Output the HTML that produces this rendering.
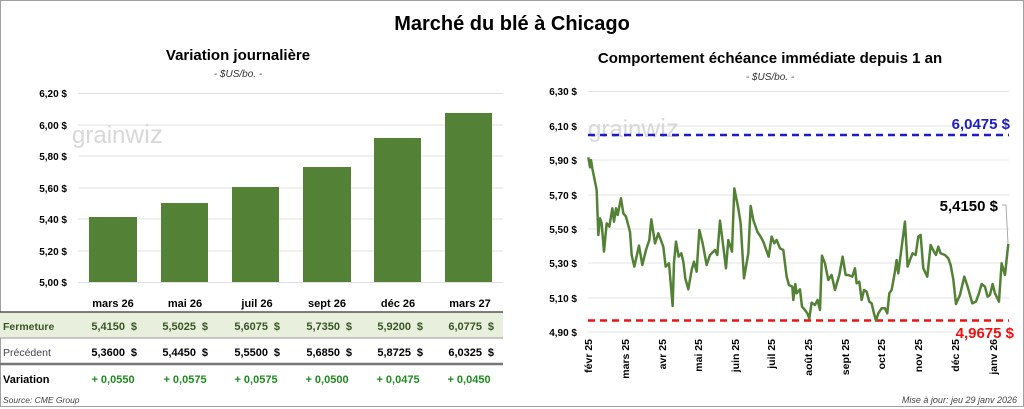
<!DOCTYPE html>
<html><head><meta charset="utf-8"><style>
body{margin:0;background:#fff}
svg{display:block;font-family:"Liberation Sans",sans-serif}
.b{font-weight:bold}
</style></head><body>
<svg width="1024" height="409" viewBox="0 0 1024 409">
<rect x="0.5" y="0.5" width="1023" height="406" fill="#fff" stroke="#a0a0a0"/>
<text x="512" y="30" text-anchor="middle" font-size="20" class="b">Marché du blé à Chicago</text>
<text x="238" y="60" text-anchor="middle" font-size="15" class="b">Variation journalière</text>
<text x="238" y="77" text-anchor="middle" font-size="10" font-style="italic" fill="#333">- $US/bo. -</text>
<text x="770" y="63" text-anchor="middle" font-size="15" class="b">Comportement échéance immédiate depuis 1 an</text>
<text x="770" y="80" text-anchor="middle" font-size="10" font-style="italic" fill="#333">- $US/bo. -</text>
<g stroke="#e0e0e0" stroke-width="1">
<line x1="78" y1="93.5" x2="503" y2="93.5"/><line x1="78" y1="125" x2="503" y2="125"/><line x1="78" y1="156" x2="503" y2="156"/><line x1="78" y1="188" x2="503" y2="188"/><line x1="78" y1="219" x2="503" y2="219"/><line x1="78" y1="251" x2="503" y2="251"/><line x1="78" y1="282.5" x2="503" y2="282.5"/>
</g>
<g font-size="10" class="b" text-anchor="end">
<text x="67" y="97">6,20 $</text><text x="67" y="129">6,00 $</text><text x="67" y="160">5,80 $</text><text x="67" y="192">5,60 $</text><text x="67" y="223">5,40 $</text><text x="67" y="255">5,20 $</text><text x="67" y="286">5,00 $</text>
</g>
<text x="72" y="143" font-size="24" fill="#d8d8d8">grain<tspan font-size="26">wiz</tspan></text>
<g fill="#538135">
<rect x="89" y="217" width="48" height="65"/><rect x="161" y="203" width="47" height="79"/><rect x="232" y="187" width="47" height="95"/><rect x="303" y="167" width="48" height="115"/><rect x="374" y="138" width="47" height="144"/><rect x="445" y="113" width="47" height="169"/>
</g>
<g font-size="11" class="b" text-anchor="middle">
<text x="113" y="307">mars 26</text><text x="185" y="307">mai 26</text><text x="257" y="307">juil 26</text><text x="327" y="307">sept 26</text><text x="398" y="307">déc 26</text><text x="470" y="307">mars 27</text>
</g>
<rect x="0" y="312" width="503" height="26" fill="#e8f0dd"/>
<line x1="0" y1="312" x2="503" y2="312" stroke="#333" stroke-width="1.2"/>
<line x1="0" y1="338" x2="503" y2="338" stroke="#999" stroke-width="1"/>
<line x1="0" y1="364" x2="503" y2="364" stroke="#777" stroke-width="2.5"/>
<text x="3" y="330" font-size="10.5" class="b" fill="#375623">Fermeture</text>
<g font-size="11" class="b" fill="#375623" text-anchor="end">
<text x="125" y="330">5,4150</text><text x="196" y="330">5,5025</text><text x="268" y="330">5,6075</text><text x="340" y="330">5,7350</text><text x="411" y="330">5,9200</text><text x="482" y="330">6,0775</text>
<text x="137" y="330">$</text><text x="208" y="330">$</text><text x="280" y="330">$</text><text x="352" y="330">$</text><text x="423" y="330">$</text><text x="494" y="330">$</text>
</g>
<text x="3" y="356" font-size="10.5" fill="#444">Précédent</text>
<g font-size="11" class="b" text-anchor="end">
<text x="125" y="356">5,3600</text><text x="196" y="356">5,4450</text><text x="268" y="356">5,5500</text><text x="340" y="356">5,6850</text><text x="411" y="356">5,8725</text><text x="482" y="356">6,0325</text>
<text x="137" y="356">$</text><text x="208" y="356">$</text><text x="280" y="356">$</text><text x="352" y="356">$</text><text x="423" y="356">$</text><text x="494" y="356">$</text>
</g>
<text x="3" y="383" font-size="11" class="b">Variation</text>
<g font-size="11" class="b" fill="#1e8c1e" text-anchor="middle">
<text x="113" y="383">+ 0,0550</text><text x="185" y="383">+ 0,0575</text><text x="256" y="383">+ 0,0575</text><text x="327" y="383">+ 0,0500</text><text x="398" y="383">+ 0,0475</text><text x="469" y="383">+ 0,0450</text>
</g>
<text x="3" y="403" font-size="8.5" font-style="italic" fill="#444">Source: CME Group</text>
<text x="1017" y="403" font-size="9" font-style="italic" fill="#444" text-anchor="end">Mise à jour: jeu 29 janv 2026</text>
<g stroke="#e3e3e3" stroke-width="1">
<line x1="588" y1="91.5" x2="1009" y2="91.5"/><line x1="588" y1="126" x2="1009" y2="126"/><line x1="588" y1="160" x2="1009" y2="160"/><line x1="588" y1="195" x2="1009" y2="195"/><line x1="588" y1="229" x2="1009" y2="229"/><line x1="588" y1="263" x2="1009" y2="263"/><line x1="588" y1="298" x2="1009" y2="298"/><line x1="588" y1="332" x2="1009" y2="332"/>
</g>
<g font-size="10" class="b" text-anchor="end">
<text x="577" y="95">6,30 $</text><text x="577" y="130">6,10 $</text><text x="577" y="164">5,90 $</text><text x="577" y="199">5,70 $</text><text x="577" y="233">5,50 $</text><text x="577" y="267">5,30 $</text><text x="577" y="302">5,10 $</text><text x="577" y="336">4,90 $</text>
</g>
<text x="588" y="137" font-size="24" fill="#d8d8d8">grain<tspan font-size="26">wiz</tspan></text>
<line x1="588" y1="135" x2="1009" y2="135" stroke="#1c1cc8" stroke-width="2.5" stroke-dasharray="7,5"/>
<line x1="588" y1="320.5" x2="1009" y2="320.5" stroke="#ee1111" stroke-width="2.5" stroke-dasharray="7,5"/>
<text x="1010" y="129" font-size="15" class="b" fill="#1c1cc8" text-anchor="end">6,0475  $</text>
<text x="1014" y="338" font-size="15" class="b" fill="#ee1111" text-anchor="end">4,9675  $</text>
<text x="998" y="211" font-size="15" class="b" text-anchor="end">5,4150 $</text>
<polyline points="1002,205 1006,205 1008,244" fill="none" stroke="#aaa" stroke-width="1"/>
<g transform="translate(520,80) scale(0.3333)">
<polyline fill="none" stroke="#538135" stroke-width="7.5" stroke-linejoin="round" points="205,232 210,262 213,240 217,265 222,290 230,330 235,465 240,415 245,430 252,515 260,430 268,440 277,385 282,425 288,385 293,405 303,355 310,400 318,410 330,455 335,525 343,560 357,497 367,555 378,510 388,480 394,418 405,490 415,460 430,500 437,560 447,550 458,678 462,548 468,485 476,530 484,520 490,545 496,595 505,628 515,570 522,545 530,575 538,450 548,490 560,555 570,525 585,510 592,525 600,422 610,500 618,565 625,480 636,515 643,325 655,385 662,430 672,595 685,520 692,378 700,420 712,455 722,470 730,485 737,505 746,530 755,470 763,490 770,480 780,505 790,510 800,590 807,615 817,620 820,660 826,612 830,640 840,628 846,680 855,690 862,700 868,715 875,668 885,675 893,660 900,690 906,527 915,550 925,600 935,585 945,630 958,585 968,530 977,585 985,585 997,590 1005,565 1010,610 1018,605 1025,660 1032,630 1040,635 1048,665 1055,670 1062,700 1068,722 1075,700 1085,685 1095,685 1102,700 1108,640 1115,630 1125,575 1130,540 1135,580 1142,525 1155,425 1163,560 1170,540 1178,520 1187,525 1195,470 1202,465 1210,565 1222,590 1232,495 1242,515 1248,525 1255,500 1262,520 1275,525 1285,535 1292,555 1300,598 1308,672 1320,645 1333,590 1343,620 1357,670 1368,665 1377,640 1385,612 1395,620 1403,650 1410,645 1418,612 1425,640 1437,665 1445,550 1455,585 1465,492"/>
</g>
<g font-size="10.5" class="b" text-anchor="end">
<text transform="translate(592,339) rotate(-90)">févr 25</text>
<text transform="translate(629,339) rotate(-90)">mars 25</text>
<text transform="translate(666,339) rotate(-90)">avr 25</text>
<text transform="translate(702,339) rotate(-90)">mai 25</text>
<text transform="translate(739,339) rotate(-90)">juin 25</text>
<text transform="translate(775,339) rotate(-90)">juil 25</text>
<text transform="translate(812,339) rotate(-90)">août 25</text>
<text transform="translate(849,339) rotate(-90)">sept 25</text>
<text transform="translate(885,339) rotate(-90)">oct 25</text>
<text transform="translate(922,339) rotate(-90)">nov 25</text>
<text transform="translate(959,339) rotate(-90)">déc 25</text>
<text transform="translate(997,339) rotate(-90)">janv 26</text>
</g>
</svg>
</body></html>
